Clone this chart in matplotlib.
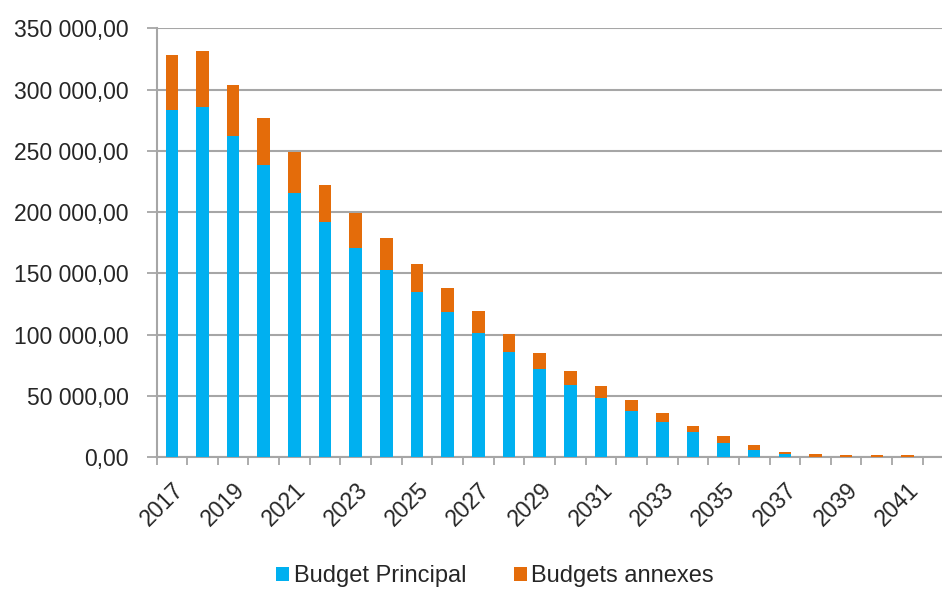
import matplotlib
matplotlib.use("Agg")
import matplotlib.pyplot as plt
import numpy as np
from matplotlib.ticker import FuncFormatter

years = list(range(2017, 2042))
budget_principal = [283100, 286000, 262000, 238400, 215300, 192300, 171100, 152700,
                    134800, 118300, 101500, 86000, 72200, 58800, 48500, 38000,
                    28900, 20500, 11800, 5900, 3100, 400, 200, 200, 200]
budgets_annexes = [45500, 45100, 41900, 38200, 34100, 30100, 28500, 26000,
                   22800, 19700, 17600, 14200, 12500, 11400, 9300, 8500,
                   7300, 5100, 5400, 4000, 1600, 2700, 1600, 1600, 1600]
ytick_values = [0, 50000, 100000, 150000, 200000, 250000, 300000, 350000]

blue = "#00B0F0"
orange = "#E46C0A"
grid_c = "#A6A6A6"
text_c = "#262626"

plt.rcParams['font.family'] = ['Liberation Sans', 'DejaVu Sans']

fig = plt.figure(figsize=(9.42, 5.90), dpi=100)
W, H = 942, 590
left, right, top, bottom = 156.5, 942, 28.3, 457.3
ax = fig.add_axes([left / W, 1 - bottom / H, (right - left) / W, (bottom - top) / H])

x = np.arange(len(years))
ax.bar(x, budget_principal, width=0.41, color=blue, label="Budget Principal", zorder=3)
ax.bar(x, budgets_annexes, width=0.41, bottom=budget_principal, color=orange,
       label="Budgets annexes", zorder=3)

slot = (922.8 - left) / 25
ax.set_xlim(-0.5, -0.5 + (right - left) / slot)
ax.set_ylim(0, 350000)

ax.set_yticks(ytick_values)
def fmt(v, pos):
    s = f"{int(round(v)):,}".replace(",", " ")
    return s + ",00"
ax.yaxis.set_major_formatter(FuncFormatter(fmt))
ax.yaxis.grid(True, color=grid_c, linewidth=1.5, zorder=0)
ax.set_axisbelow(True)

# x: major ticks at category boundaries, labels every other year at centers
ax.set_xticks(np.arange(-0.5, 25, 1.0))
ax.set_xticklabels([])
ax.set_xticks(x[::2], minor=True)
ax.set_xticklabels([str(y) for y in years[::2]], minor=True, rotation=45,
                   ha='right', va='top', rotation_mode='anchor')
ax.tick_params(axis='x', which='minor', length=0, pad=15, labelsize=16.5, labelcolor=text_c)
ax.tick_params(axis='x', which='major', length=6, width=1.3, color=grid_c)
ax.tick_params(axis='y', length=7, width=1.3, color=grid_c, labelsize=16.5,
               labelcolor=text_c, pad=13)

for s in ['top', 'right']:
    ax.spines[s].set_visible(False)
for s in ['left', 'bottom']:
    ax.spines[s].set_color(grid_c)
    ax.spines[s].set_linewidth(1.5)

fig.legend(loc='center', bbox_to_anchor=(495 / W, 1 - 576 / H), ncol=2, frameon=False,
           fontsize=17, handlelength=0.55, handleheight=0.55, handletextpad=0.2,
           columnspacing=2.0, labelcolor=text_c)

fig.savefig("out.png", dpi=100)
